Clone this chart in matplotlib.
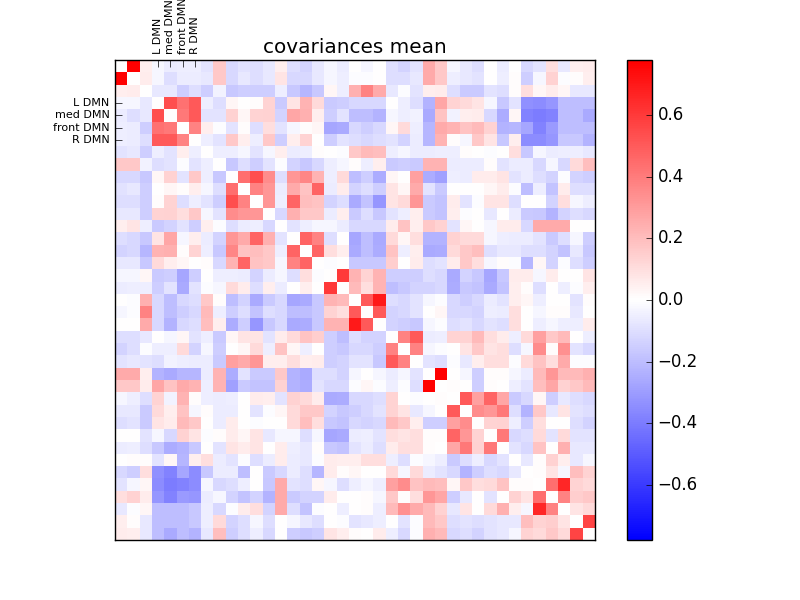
import numpy as np
import matplotlib
matplotlib.use("Agg")
import matplotlib.pyplot as plt

N_REGIONS = 39
VMAX = 0.78

# labelled regions and where they sit in the matrix
labels = ["L DMN", "med DMN", "front DMN", "R DMN"]
label_pos = [3, 4, 5, 6]

cbar_ticks = [-0.6, -0.4, -0.2, 0.0, 0.2, 0.4, 0.6]

# upper triangle of the mean covariance matrix, row i holds columns i+1 .. 38
upper = [
    [0.78, 0.05, -0.03, -0.06, -0.05, -0.05, -0.08, 0.17, -0.12, -0.09, -0.10, -0.07,
     0.05, -0.10, -0.13, -0.07, -0.03, -0.06, 0.00, -0.03, 0.00, -0.10, -0.13, -0.08, 0.26,
     0.17, -0.03, -0.07, -0.10, 0.00, -0.06, 0.00, -0.12, -0.08, 0.10, -0.07, 0.05, 0.06],
    [0.06, -0.03, -0.10, -0.06, -0.06, -0.07, 0.17, -0.12, -0.07, -0.10, -0.07,
     0.08, -0.12, -0.12, -0.07, -0.03, -0.05, -0.01, -0.01, 0.00, -0.10, -0.10, -0.07, 0.26,
     0.17, -0.05, -0.07, -0.08, 0.00, -0.05, 0.01, -0.15, -0.03, 0.14, -0.01, 0.01, 0.05],
    [-0.07, -0.07, -0.15, -0.10, -0.15, -0.04, -0.17, -0.15, -0.15, -0.15,
     -0.05, -0.17, -0.22, -0.17, 0.03, -0.05, 0.24, 0.38, 0.26, -0.07, -0.01, -0.08, 0.05,
     0.06, -0.10, -0.16, -0.16, -0.08, -0.10, 0.01, 0.10, 0.03, 0.06, 0.03, -0.07, -0.07],
    [0.54, 0.43, 0.50, -0.05, -0.10, 0.03, 0.00, 0.01, 0.13,
     -0.16, 0.08, 0.23, 0.11, -0.16, -0.15, -0.12, -0.12, -0.12, 0.00, -0.05, -0.10, -0.23,
     0.27, 0.13, 0.11, 0.08, -0.03, -0.17, -0.08, -0.34, -0.35, -0.32, -0.20, -0.20, -0.20],
    [0.41, 0.50, -0.08, -0.08, 0.14, 0.03, 0.13, 0.14,
     -0.13, 0.27, 0.24, 0.05, -0.15, -0.08, -0.20, -0.20, -0.23, -0.03, -0.05, -0.04, -0.26,
     0.18, -0.04, 0.05, 0.06, -0.12, -0.25, 0.03, -0.38, -0.40, -0.38, -0.20, -0.20, -0.26],
    [0.38, 0.05, -0.01, -0.08, 0.01, -0.10, 0.10,
     -0.08, -0.03, 0.01, 0.03, -0.27, -0.26, -0.12, -0.15, -0.12, 0.03, 0.11, -0.05, -0.22,
     0.26, 0.23, 0.18, 0.21, 0.14, -0.23, -0.22, -0.27, -0.38, -0.31, -0.20, -0.20, -0.20],
    [-0.05, -0.08, 0.17, 0.05, -0.05, 0.17,
     -0.15, 0.05, 0.13, 0.00, -0.15, -0.08, -0.10, -0.12, -0.10, -0.08, -0.13, -0.06, -0.22,
     0.23, 0.01, -0.03, 0.17, 0.08, -0.17, 0.05, -0.35, -0.35, -0.32, -0.17, -0.17, -0.23],
    [-0.05, -0.05, -0.03, -0.08, -0.03,
     0.05, -0.06, -0.05, 0.01, 0.00, -0.01, 0.17, 0.21, 0.20, -0.05, -0.03, -0.06, -0.06,
     -0.05, -0.05, 0.01, 0.00, -0.01, 0.00, 0.10, -0.17, -0.03, -0.06, -0.05, -0.05, -0.07],
    [-0.17, -0.10, -0.15, -0.08,
     -0.01, -0.13, -0.17, -0.12, -0.05, -0.03, 0.01, -0.05, 0.05, -0.16, -0.15, -0.16, 0.23,
     0.23, -0.06, -0.06, -0.06, 0.01, -0.08, -0.06, -0.06, -0.12, -0.03, -0.12, 0.11, 0.20],
    [0.44, 0.54, 0.35,
     -0.10, 0.32, 0.37, 0.23, -0.05, 0.11, -0.20, -0.15, -0.25, 0.03, 0.00, 0.29, -0.25,
     -0.29, -0.05, -0.06, 0.06, 0.06, 0.08, -0.08, -0.06, -0.10, -0.13, -0.01, -0.13, -0.15],
    [0.38, 0.32,
     -0.06, 0.26, 0.18, 0.47, -0.06, 0.06, -0.13, -0.10, -0.15, 0.08, 0.03, 0.26, -0.08,
     -0.16, 0.00, 0.00, 0.00, 0.03, 0.06, -0.01, -0.20, -0.05, -0.18, 0.06, -0.10, -0.10],
    [0.32,
     -0.05, 0.47, 0.20, 0.18, -0.13, -0.10, -0.26, -0.18, -0.32, 0.08, 0.11, 0.32, -0.16,
     -0.18, 0.06, -0.08, -0.01, 0.08, 0.08, -0.10, 0.00, 0.00, -0.13, 0.10, -0.03, -0.05],
    [-0.12, 0.24, 0.17, 0.17, -0.06, 0.05, -0.16, -0.10, -0.17, -0.08, -0.05, 0.05, -0.16,
     -0.18, 0.05, -0.01, 0.00, -0.07, 0.00, -0.06, -0.16, -0.17, -0.23, -0.13, -0.10, -0.12],
    [-0.08, -0.05, -0.03, -0.03, -0.06, -0.12, -0.12, -0.12, 0.06, 0.18, 0.05, 0.17,
     0.14, -0.08, 0.03, 0.00, -0.03, 0.06, 0.06, -0.12, 0.26, 0.26, 0.26, 0.00, 0.00],
    [0.47, 0.38, -0.10, 0.00, -0.27, -0.20, -0.26, 0.11, 0.03, 0.10, -0.23,
     -0.23, 0.14, 0.11, 0.11, -0.03, -0.05, -0.06, -0.06, -0.08, -0.16, -0.10, -0.03, -0.15],
    [0.47, 0.10, 0.05, -0.26, -0.20, -0.25, 0.18, -0.05, 0.05, -0.26,
     -0.25, 0.11, 0.17, 0.20, -0.10, -0.07, -0.07, -0.10, -0.10, -0.13, -0.18, -0.07, -0.17],
    [-0.01, 0.00, -0.17, -0.17, -0.17, 0.15, 0.00, 0.06, -0.10,
     -0.08, 0.06, 0.17, 0.10, -0.03, 0.01, -0.01, -0.22, 0.03, -0.13, -0.01, -0.10, -0.15],
    [0.60, 0.23, 0.13, 0.23, -0.15, -0.15, -0.15, -0.10,
     -0.12, -0.26, -0.13, -0.17, -0.27, -0.17, 0.06, 0.06, -0.03, 0.06, 0.00, 0.00, 0.08],
    [0.21, 0.10, 0.23, -0.20, -0.17, -0.13, -0.13,
     -0.12, -0.25, -0.17, -0.18, -0.26, -0.18, 0.05, 0.01, -0.10, 0.00, -0.05, -0.01, 0.05],
    [0.50, 0.70, -0.10, -0.12, -0.08, -0.03,
     -0.01, -0.12, -0.15, -0.12, -0.06, -0.08, 0.05, 0.03, -0.05, 0.00, 0.00, -0.08, 0.01],
    [0.50, -0.13, -0.12, -0.08, 0.00,
     0.03, -0.12, -0.12, -0.13, -0.05, -0.06, 0.10, 0.00, -0.03, 0.01, 0.01, -0.07, 0.00],
    [-0.13, -0.15, -0.17, -0.03,
     -0.01, -0.10, -0.08, -0.12, -0.08, -0.10, 0.10, 0.00, -0.05, -0.03, -0.05, -0.05, 0.06],
    [0.38, 0.50, -0.06,
     -0.05, 0.13, 0.13, 0.21, 0.10, 0.06, -0.05, 0.11, 0.29, 0.17, 0.21, 0.00, -0.05],
    [0.38, -0.03,
     -0.01, 0.00, 0.08, 0.17, 0.08, 0.10, -0.10, -0.03, 0.35, 0.01, 0.34, -0.08, -0.12],
    [-0.08,
     -0.10, -0.01, -0.07, 0.05, 0.10, 0.10, -0.01, 0.11, 0.18, 0.10, 0.26, -0.01, -0.01],
    [0.78, 0.00, -0.03, -0.15, 0.01, 0.01, -0.03, -0.06, 0.21, 0.32, 0.21, 0.21, 0.24],
    [0.01, 0.00, -0.15, 0.01, 0.00, -0.05, -0.08, 0.20, 0.27, 0.14, 0.17, 0.21],
    [0.50, 0.29, 0.47, 0.27, -0.16, -0.12, 0.03, -0.15, -0.07, -0.10, -0.12],
    [0.35, 0.32, 0.41, -0.10, -0.23, 0.17, -0.07, 0.08, -0.08, -0.10],
    [0.13, 0.14, -0.05, -0.15, 0.10, 0.00, 0.00, -0.10, -0.13],
    [0.41, -0.12, -0.10, 0.11, -0.08, 0.11, -0.08, -0.08],
    [-0.08, -0.12, 0.18, 0.00, 0.24, -0.07, -0.07],
    [-0.07, 0.01, 0.14, 0.05, -0.07, -0.03],
    [0.01, 0.08, -0.03, 0.20, 0.13],
    [0.44, 0.66, 0.13, 0.11],
    [0.38, 0.15, 0.17],
    [0.08, 0.11],
    [0.57],
]


def build_matrix(rows, n):
    mat = np.zeros((n, n))
    for i, row in enumerate(rows):
        mat[i, i + 1:] = row
    return mat + mat.T


plt.style.use("classic")
cov = build_matrix(upper, N_REGIONS)

fig = plt.figure(figsize=(8, 6), dpi=100, facecolor="white")
ax = fig.add_axes([0.14375, 0.1, 0.6, 0.8])
im = ax.imshow(cov, cmap="bwr", vmin=-VMAX, vmax=VMAX, interpolation="nearest")

ax.set_xticks(label_pos)
ax.set_xticklabels(labels, rotation=90, fontsize=8)
ax.set_yticks(label_pos)
ax.set_yticklabels(labels, fontsize=8)
ax.tick_params(top=True, bottom=False, labeltop=True, labelbottom=False,
               left=True, right=False, direction="in", length=5)
ax.set_title("covariances mean", y=1.0, pad=5)

cax = fig.add_axes([0.78375, 0.1, 0.03125, 0.8])
cbar = fig.colorbar(im, cax=cax, ticks=cbar_ticks)

plt.savefig("out.png", dpi=100, facecolor="white")
plt.close()
